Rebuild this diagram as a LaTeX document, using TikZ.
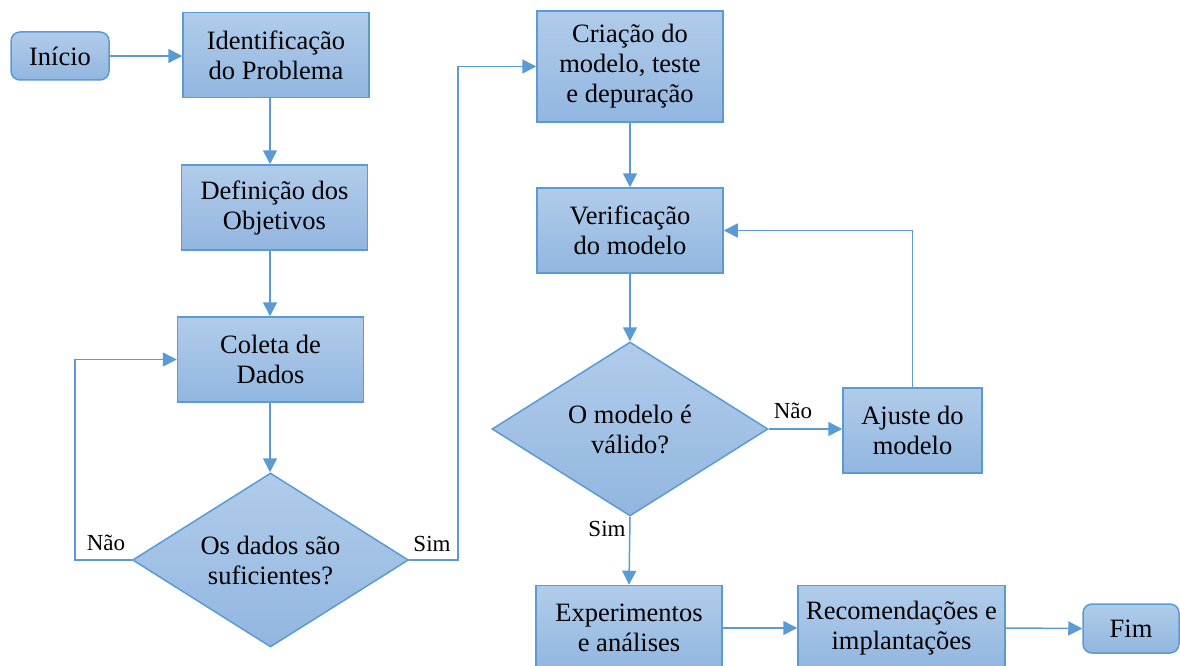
\documentclass[tikz,border=0pt]{standalone}
\usepackage{fontspec}
\setmainfont{Liberation Serif}
\usetikzlibrary{shapes.geometric,arrows.meta,calc}
\definecolor{edge}{HTML}{5B9BD5}
\definecolor{ftop}{HTML}{B1CCEA}
\definecolor{fbot}{HTML}{92B6E0}
\tikzset{
  base/.style={draw=edge, line width=1.5pt, top color=ftop, bottom color=fbot,
    font=\fontsize{26.5}{30}\selectfont, align=center, inner sep=0pt, text=black},
  proc/.style={base, rectangle, minimum width=186pt, minimum height=85pt},
  term/.style={base, rectangle, rounded corners=9pt},
  dec/.style={base, diamond, aspect=1.59, minimum width=276pt, minimum height=174pt},
  conn/.style={draw=edge, line width=1.5pt, -{Triangle[length=14pt,width=14pt]}},
  lbl/.style={font=\fontsize{23}{26}\selectfont, inner sep=0pt, text=black}
}
\begin{document}
\begin{tikzpicture}[x=1pt,y=-1pt]
\clip (0,0) rectangle (1180,666);
\fill[white] (0,0) rectangle (1180,666);
% nodes
\node[term, minimum width=98pt, minimum height=48pt] (start) at (60,56) {Início};
\node[proc] (ident) at (276,55) {Identificação\\do Problema};
\node[proc] (def) at (274.5,207.5) {Definição dos\\Objetivos};
\node[proc] (col) at (270.5,359.5) {Coleta de\\Dados};
\node[dec] (d1) at (270.5,560) {Os dados são\\suficientes?};
\node[proc, minimum height=111pt] (cri) at (630,66.5) {Criação do\\modelo, teste\\e depuração};
\node[proc] (ver) at (630,230.5) {Verificação\\do modelo};
\node[dec] (d2) at (630,429) {O modelo é\\válido?};
\node[proc, minimum width=139pt] (aju) at (912.5,430.5) {Ajuste do\\modelo};
\node[proc] (exp) at (629,628) {Experimentos\\e análises};
\node[proc, minimum width=207pt] (rec) at (901.5,628) {Recomendações e\\implantações};
\node[term, minimum width=96pt, minimum height=49pt] (fim) at (1131,628.5) {Fim};
% helper columns
\coordinate (cx) at (270,0);
\coordinate (lx) at (75,0);
\coordinate (sx) at (458,0);
% connectors
\draw[conn] (start.east) -- (start.east -| ident.west);
\draw[conn] (ident.south -| cx) -- (def.north -| cx);
\draw[conn] (def.south -| cx) -- (col.north -| cx);
\draw[conn] (col.south -| cx) -- (d1.north -| cx);
\draw[conn] (d1.west) -- (d1.west -| lx) |- (col.west);
\draw[conn] (d1.east) -- (d1.east -| sx) |- (cri.west);
\draw[conn] (cri.south) -- (ver.north);
\draw[conn] (ver.south) -- (d2.north);
\draw[conn] (d2.east) -- (d2.east -| aju.west);
\draw[conn] (aju.north) |- (ver.east);
\draw[conn] (d2.south) -- (exp.north);
\draw[conn] (exp.east) -- (rec.west);
\draw[conn] (rec.east) -- (fim.west);
% labels
\node[lbl] (n1) at (106,543) {Não};
\node[lbl] (s1) at (432,544) {Sim};
\node[lbl] (n2) at (793,411) {Não};
\node[lbl] (s2) at (607,529) {Sim};
\end{tikzpicture}
\end{document}
